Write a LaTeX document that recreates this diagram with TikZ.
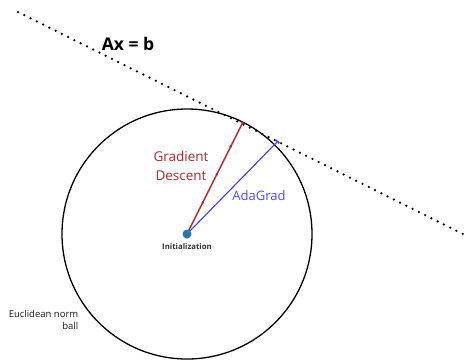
\documentclass[tikz,border=0pt]{standalone}
\usepackage{fontspec}
\setmainfont{Open Sans}
\usetikzlibrary{decorations.markings,arrows.meta}
\definecolor{gdred}{HTML}{B2262B}
\definecolor{agblue}{HTML}{3A3AF5}
\definecolor{agtext}{HTML}{4848FF}
\definecolor{dotblue}{HTML}{2B78B0}
\begin{document}
\begin{tikzpicture}[x=1pt,y=-1pt,
  lbl/.style={inner sep=0pt, font=\fontsize{#1}{#1}\selectfont},
  gdline/.style={gdred, line width=1.5pt,
    postaction={decorate,decoration={markings,
      mark=at position 0.3 with {\arrow{Stealth[length=3pt,width=2.8pt]}},
      mark=at position 0.55 with {\arrow{Stealth[length=3pt,width=2.8pt]}},
      mark=at position 0.8 with {\arrow{Stealth[length=3pt,width=2.8pt]}}}}}]
\useasboundingbox (0,0) rectangle (466,360);
\coordinate (c) at (187,234);
\node[draw, circle, line width=1.3pt, minimum size=250pt, inner sep=0pt] (ballc) at (c) {};
\coordinate (p1) at (18,12);
\coordinate (p2) at (465,235);
\draw[line width=2.5pt, line cap=round, dash pattern=on 0pt off 7pt] (p1) -- (p2);
\coordinate (gd) at (243,122);
\coordinate (ag) at (278,141);
\draw[agblue, line width=1.1pt, -{Bar[width=5pt,line width=1.5pt]}] (c) -- (ag);
\draw[gdline, -{Bar[width=4.5pt,line width=1.4pt]}] (c) -- (gd);
\node[circle, fill=dotblue, minimum size=9pt, inner sep=0pt] (init) at (c) {};
\node[lbl=7.8, font=\bfseries\fontsize{7.8}{7.8}\selectfont, text=black!80] (initl) at (187,246.5) {Initialization};
\node[lbl=17.5, font=\bfseries\fontsize{17.5}{17.5}\selectfont] (eq) at (128,44) {Ax = b};
\node[lbl=13.5, text=gdred, align=center, font=\fontsize{13.5}{19}\selectfont] (gdl) at (181,165.5) {Gradient\\Descent};
\node[lbl=13, text=agtext] (agl) at (259,196) {AdaGrad};
\node[lbl=9.5, align=right, font=\fontsize{9.5}{12.5}\selectfont, text=black!90] (ball) at (43.5,320) {Euclidean norm\\ball};
\end{tikzpicture}
\end{document}
